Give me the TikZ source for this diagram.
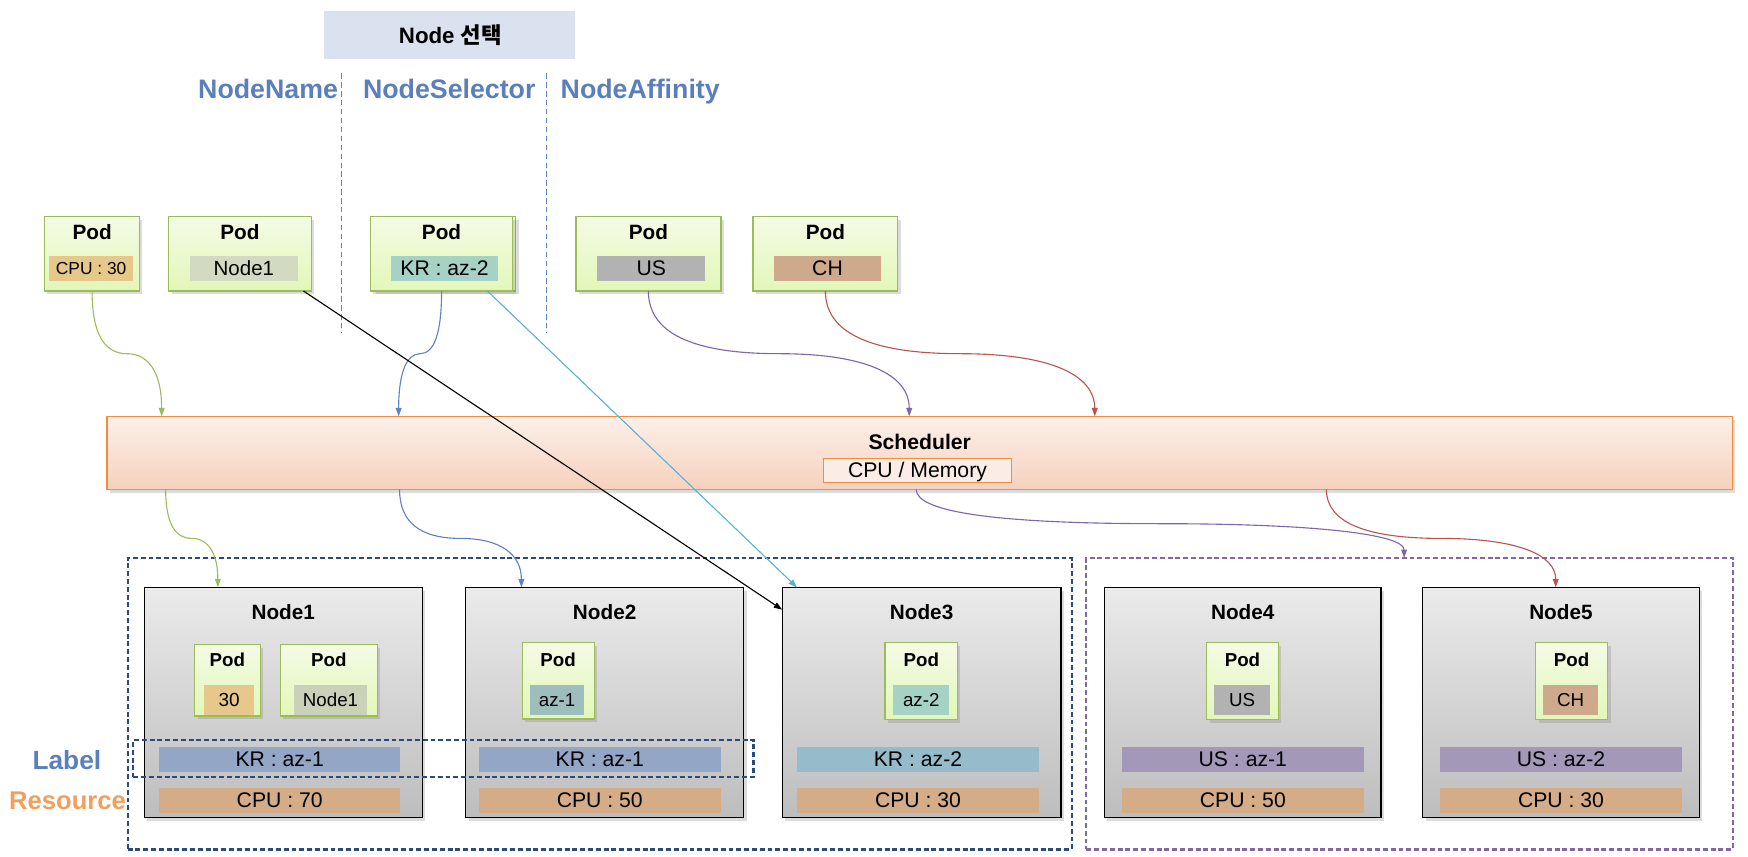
\documentclass[tikz,border=0pt]{standalone}
\usepackage{fontspec}
\setmainfont{Liberation Sans}
\newfontfamily\krfont{Noto Sans CJK KR}
\usetikzlibrary{arrows.meta,shadows,fit,calc}

\definecolor{titlebg}{HTML}{DAE2EF}
\definecolor{bluetxt}{HTML}{5B7EBC}
\definecolor{vdashc}{HTML}{5B86C8}
\definecolor{podtop}{HTML}{F4FBE6}
\definecolor{podbot}{HTML}{E2F7B8}
\definecolor{podbd}{HTML}{9CBB5A}
\definecolor{cpuc}{HTML}{E6C88B}
\definecolor{nodenc}{HTML}{D2DBC1}
\definecolor{nodenb}{HTML}{C9D2B8}
\definecolor{aztwoc}{HTML}{A6D2C5}
\definecolor{azonec}{HTML}{9EBEBE}
\definecolor{usc}{HTML}{B2B2B2}
\definecolor{chc}{HTML}{CFA98B}
\definecolor{schtop}{HTML}{FCF0E9}
\definecolor{schbot}{HTML}{F6D1BE}
\definecolor{schbd}{HTML}{EE8F3F}
\definecolor{memc}{HTML}{FBEDE6}
\definecolor{nodetop}{HTML}{EBEBEB}
\definecolor{nodebot}{HTML}{BDBDBD}
\definecolor{krone}{HTML}{93A6C6}
\definecolor{krtwo}{HTML}{96BCCB}
\definecolor{usbar}{HTML}{A398B8}
\definecolor{cpubar}{HTML}{D4AC88}
\definecolor{contblue}{HTML}{2A4B7E}
\definecolor{contpurple}{HTML}{8466A6}
\definecolor{agreen}{HTML}{9CBB5A}
\definecolor{ablue}{HTML}{5E83C2}
\definecolor{alblue}{HTML}{5BB0D3}
\definecolor{apurple}{HTML}{7E66AA}
\definecolor{ared}{HTML}{BA5450}
\definecolor{restxt}{HTML}{F19F5A}

\newcommand\scurve[3]{%
  \draw[#1] let \p1=(#2), \p2=(#3) in
   (\p1) .. controls (\x1,{\y1+(\y2-\y1)/3}) and ({(\x1+\x2)/2-(\x2-\x1)/3},{(\y1+\y2)/2}) ..
   ({(\x1+\x2)/2},{(\y1+\y2)/2}) .. controls ({(\x1+\x2)/2+(\x2-\x1)/3},{(\y1+\y2)/2}) and (\x2,{\y2-(\y2-\y1)/3}) .. (\p2);}

\begin{document}
\begin{tikzpicture}[x=0.5pt,y=-0.5pt,
  every node/.style={inner sep=0pt, outer sep=0pt, text depth=0pt},
  fnt/.style={font=\fontsize{#1}{#1}\selectfont},
  bfnt/.style={font=\fontsize{#1}{#1}\selectfont\bfseries},
  shad/.style={drop shadow={opacity=0.28, shadow xshift=1.3pt, shadow yshift=-1.5pt}},
  podbox/.style={draw=podbd, line width=0.6pt, top color=podtop, bottom color=podbot, shad},
  nodebox/.style={draw=black, line width=0.6pt, top color=nodetop, bottom color=nodebot, shad},
  schbox/.style={draw=schbd, line width=0.7pt, top color=schtop, bottom color=schbot, shad},
  tagbox/.style={fill=#1},
  contbox/.style={draw=#1, line width=0.9pt, dash pattern=on 2.2pt off 1.3pt},
  vsep/.style={draw=vdashc, line width=0.5pt, dash pattern=on 2.4pt off 1.6pt},
  arr/.style={draw=#1, line width=0.5pt, -{Triangle[length=3.8pt,width=2.6pt]}},
]
\useasboundingbox (0,0) rectangle (1568,768);

% title and selector captions
\node[fill=titlebg, fit={(291,9.5) (516,52.5)}] (title) {};
\node[bfnt=10] (titletxt) at (404,30.5) {Node \krfont 선택};
\node[bfnt=12, text=bluetxt] (nname) at (240.5,80) {NodeName};
\node[bfnt=12, text=bluetxt] (nsel) at (403,80) {NodeSelector};
\node[bfnt=12, text=bluetxt] (naff) at (574.3,80) {NodeAffinity};
\draw[vsep] (306.3,65.8) -- (306.3,298.7);
\draw[vsep] (489.9,65.8) -- (489.9,298.7);

% top pods
\node[podbox, fit={(40,194.4) (125.2,261)}] (p1) {};
\node[bfnt=9.3] (p1h) at (82.6,207.8) {Pod};
\node[tagbox=cpuc, fit={(43.9,229.6) (119.6,252)}] (p1t) {};
\node[fnt=7.8] at (p1t.center) {CPU : 30};

\node[podbox, fit={(151.3,194.4) (279.2,261)}] (p2) {};
\node[bfnt=9.3] (p2h) at (215.2,207.8) {Pod};
\node[tagbox=nodenc, fit={(170.5,229.6) (267,252)}] (p2t) {};
\node[fnt=9.2] at (p2t.center) {Node1};

\node[podbox, fit={(334.9,194.4) (462.7,261)}] (p3b) {};
\node[podbox, fit={(332.2,194.4) (460,261)}] (p3) {};
\node[bfnt=9.3] (p3h) at (396.1,207.8) {Pod};
\node[tagbox=aztwoc, fit={(351,229.6) (446.5,252)}] (p3t) {};
\node[fnt=9.5] at (p3t.center) {KR : az-2};

\node[podbox, fit={(516.6,194.4) (646.6,261)}] (p4) {};
\node[bfnt=9.3] (p4h) at (581.6,207.8) {Pod};
\node[tagbox=usc, fit={(535.7,229.6) (632.7,252)}] (p4t) {};
\node[fnt=9.5] at (p4t.center) {US};

\node[podbox, fit={(675.5,194.4) (805.3,261)}] (p5) {};
\node[bfnt=9.3] (p5h) at (740.4,207.8) {Pod};
\node[tagbox=chc, fit={(694.3,229.6) (790.3,252)}] (p5t) {};
\node[fnt=9.5] at (p5t.center) {CH};

% scheduler
\node[schbox, fit={(96,373.5) (1554,439)}] (sch) {};
\node[bfnt=9.5] (schtxt) at (825,396.2) {Scheduler};
\node[draw=schbd, line width=0.5pt, fill=memc, fit={(739,411) (907,432.5)}] (mem) {};
\node[fnt=9.5] at (mem.center) {CPU / Memory};

% containers
\node[contbox=contblue, fit={(114.5,500.5) (961.3,762)}] (cb) {};
\node[contbox=contpurple, fit={(974.5,500.5) (1554.4,762)}] (cp) {};

% worker nodes
\node[nodebox, fit={(129.4,526.9) (378.8,733.2)}] (n1) {};
\node[nodebox, fit={(417.7,526.9) (667.1,733.2)}] (n2) {};
\node[nodebox, fit={(701.7,526.9) (951.7,733.2)}] (n3) {};
\node[nodebox, fit={(990.7,526.9) (1238.9,733.2)}] (n4) {};
\node[nodebox, fit={(1276.1,526.9) (1524.3,733.2)}] (n5) {};
\node[bfnt=9.3] at (254.1,549.3) {Node1};
\node[bfnt=9.3] at (542.4,549.3) {Node2};
\node[bfnt=9.3] at (826.7,549.3) {Node3};
\node[bfnt=9.3] at (1114.8,549.3) {Node4};
\node[bfnt=9.3] at (1400.2,549.3) {Node5};

% pods inside nodes
\node[podbox, fit={(174.6,578) (233.5,642.3)}] (q1) {};
\node[bfnt=8.4] at (204,592) {Pod};
\node[tagbox=cpuc, fit={(183,614.5) (228,641.6)}] (q1t) {};
\node[fnt=8.5] at (q1t.center) {30};

\node[podbox, fit={(251.5,578) (338.4,642.3)}] (q2) {};
\node[bfnt=8.4] at (295,592) {Pod};
\node[tagbox=nodenb, fit={(264,614.5) (329,641.6)}] (q2t) {};
\node[fnt=8.4] at (q2t.center) {Node1};

\node[podbox, fit={(468.5,576.2) (533,645)}] (q3) {};
\node[bfnt=8.4] at (500.7,592) {Pod};
\node[tagbox=azonec, fit={(475.4,614.5) (524,641.6)}] (q3t) {};
\node[fnt=8.4] at (q3t.center) {az-1};

\node[podbox, fit={(794,576.2) (858.8,645.6)}] (q4) {};
\node[bfnt=8.4] at (826.4,592) {Pod};
\node[tagbox=aztwoc, fit={(801.2,614.5) (851.6,641.6)}] (q4t) {};
\node[fnt=8.4] at (q4t.center) {az-2};

\node[podbox, fit={(1082.4,576.2) (1146.6,645.6)}] (q5) {};
\node[bfnt=8.4] at (1114.5,592) {Pod};
\node[tagbox=usc, fit={(1089,614.5) (1139.4,641.6)}] (q5t) {};
\node[fnt=8.4] at (q5t.center) {US};

\node[podbox, fit={(1377.5,576.2) (1442.2,645.6)}] (q6) {};
\node[bfnt=8.4] at (1409.8,592) {Pod};
\node[tagbox=chc, fit={(1384,614.5) (1433.8,641.6)}] (q6t) {};
\node[fnt=8.4] at (q6t.center) {CH};

% label and resource bars
\foreach \nm/\xa/\xb/\lc/\lt/\ct in {
  a/142.6/359.2/krone/{KR : az-1}/{CPU : 70},
  b/429.7/646.3/krone/{KR : az-1}/{CPU : 50},
  c/714.9/932/krtwo/{KR : az-2}/{CPU : 30},
  d/1006.3/1223.4/usbar/{US : az-1}/{CPU : 50},
  e/1291.7/1508.8/usbar/{US : az-2}/{CPU : 30}}{
  \node[tagbox=\lc, fit={(\xa,670.4) (\xb,692.2)}] (lb\nm) {};
  \node[fnt=9.5] at (lb\nm.center) {\lt};
  \node[tagbox=cpubar, fit={(\xa,706.9) (\xb,729)}] (rb\nm) {};
  \node[fnt=9.5] at (rb\nm.center) {\ct};
}
\node[contbox=contblue, fit={(119.7,663.5) (675.9,697)}] (lblbox) {};
\node[bfnt=11.8, text=bluetxt] (lbltxt) at (60,681.7) {Label};
\node[bfnt=11.5, text=restxt] (restxt) at (60.6,718.2) {Resource};

% connectors
\scurve{arr=agreen}{p1.south}{[xshift=24.5pt]sch.north west}
\scurve{arr=ablue}{p3.south}{[xshift=130.8pt]sch.north west}
\scurve{arr=apurple}{p4.south}{[xshift=359.8pt]sch.north west}
\scurve{arr=ared}{p5.south}{[xshift=443pt]sch.north west}
\scurve{arr=agreen}{[xshift=26.3pt]sch.south west}{[xshift=33pt]n1.north west}
\scurve{arr=ablue}{[xshift=131.2pt]sch.south west}{[xshift=25pt]n2.north west}
\scurve{arr=apurple}{[xshift=362.9pt]sch.south west}{[xshift=142.5pt]cp.north west}
\scurve{arr=ared}{[xshift=546.9pt]sch.south west}{[xshift=59.7pt]n5.north west}
\draw[arr=black] ([xshift=-3.5pt]p2.south east) -- ([yshift=-10pt]n3.north west);
\draw[arr=alblue] ([xshift=52.5pt]p3.south west) -- ([xshift=6.6pt]n3.north west);
\end{tikzpicture}
\end{document}
